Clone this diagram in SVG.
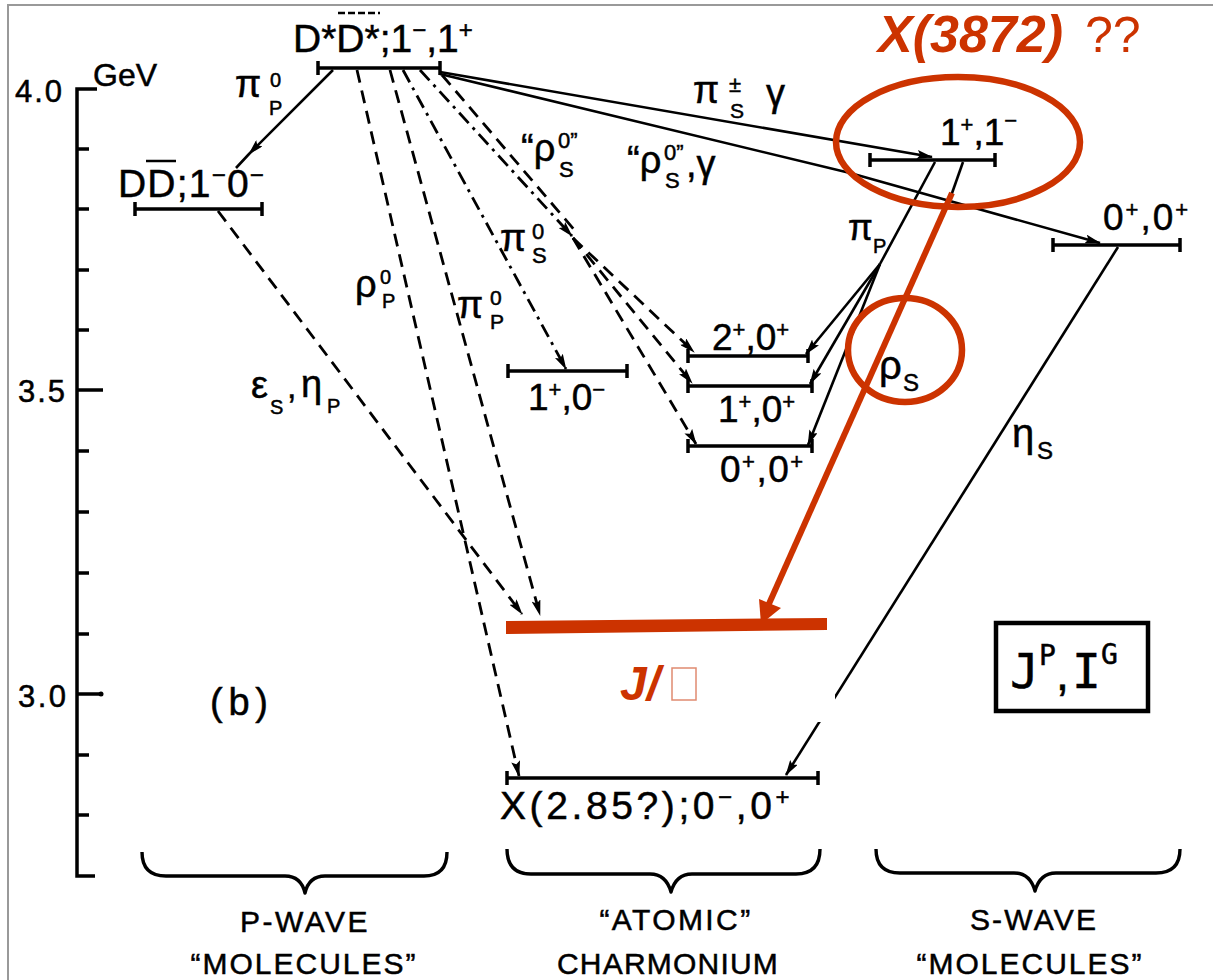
<svg xmlns="http://www.w3.org/2000/svg" width="1213" height="980" viewBox="0 0 1213 980">
<defs>
<style>
.t{font-family:"Liberation Sans",Arial,sans-serif;fill:#000;stroke:#000;stroke-width:0.5}
.m{font-family:"DejaVu Sans Mono","Liberation Mono",monospace;fill:#000;stroke:#000;stroke-width:0.5}
.lvl{stroke:#000;stroke-width:3.5;fill:none}
.sol{stroke:#000;stroke-width:2.6;fill:none}
.dsh{stroke:#000;stroke-width:2.8;fill:none;stroke-dasharray:13 8}
.dd{stroke:#000;stroke-width:2.8;fill:none;stroke-dasharray:14 6 3 6}
.ax{stroke:#000;stroke-width:3.5;fill:none}
.br{stroke:#000;stroke-width:3.4;fill:none;stroke-linejoin:round}
.red{fill:#cc3300}
.rs{stroke:#cc3300;fill:none;stroke-width:6.5}
</style>
<marker id="ah" viewBox="0 0 16 9" refX="15" refY="4.5" markerWidth="16" markerHeight="9" markerUnits="userSpaceOnUse" orient="auto"><path d="M0,0 L16,4.5 L0,9 L3,4.5 Z" fill="#000"/></marker>
</defs>
<rect x="0" y="0" width="1213" height="980" fill="#fff"/>
<path d="M8,980 L8,5 L1213,5" stroke="#999" stroke-width="2" fill="none"/>

<g id="axis">
<path class="ax" d="M97,89 L77,89 L77,876 L95,876"/>
<path class="ax" d="M77,149 L89,149 M77,209 L89,209 M77,270 L89,270 M77,330 L89,330 M77,390 L103,390 M77,451 L89,451 M77,512 L89,512 M77,573 L89,573 M77,634 L89,634 M77,694 L101,694 M77,755 L89,755 M77,815 L89,815"/>
<circle cx="101" cy="694" r="2.5" fill="#000"/>
<text class="t" x="15" y="102" font-size="31" textLength="47">4.0</text>
<text class="t" x="93" y="86" font-size="32">GeV</text>
<text class="t" x="18" y="402" font-size="31" textLength="47">3.5</text>
<text class="t" x="18" y="707" font-size="31" textLength="48">3.0</text>
</g>

<g id="connectors">
<path class="sol" d="M333,70 L249,154 L236,168" marker-mid="url(#ah)"/>
<path class="sol" d="M440,72 L932,157" marker-end="url(#ah)"/>
<path class="sol" d="M440,74 L850,173 L1100,243" marker-end="url(#ah)"/>
<path class="sol" d="M935,162 L880,264"/>
<path class="sol" d="M880,264 L806,354" marker-end="url(#ah)"/>
<path class="sol" d="M880,264 L810,384" marker-end="url(#ah)"/>
<path class="sol" d="M880,264 L808,445" marker-end="url(#ah)"/>
<path class="sol" d="M963,162 L951,196"/>
<path class="sol" d="M1118,247 L786,775" marker-end="url(#ah)"/>
<path class="dsh" d="M218,211 L522,614" marker-end="url(#ah)"/>
<path class="dsh" d="M357,70 L519,776" marker-end="url(#ah)"/>
<path class="dsh" d="M390,70 L540,615" marker-end="url(#ah)"/>
<path class="dd" d="M403,70 L566,369" marker-end="url(#ah)"/>
<path class="dd" d="M420,70 L572,236" marker-end="url(#ah)"/>
<path class="dsh" d="M442,75 L577,233"/>
<path class="dsh" d="M573,238 L694,352" marker-end="url(#ah)"/>
<path class="dsh" d="M573,238 L692,383" marker-end="url(#ah)"/>
<path class="dsh" d="M573,238 L696,444" marker-end="url(#ah)"/>
</g>

<g id="lvl-dsds">
<path class="lvl" d="M318,68 L440,68 M318,61 L318,75 M440,61 L440,75"/>
<text class="t" x="293" y="52" font-size="39">D*D*;1<tspan dy="-14" font-size="24">−</tspan><tspan dy="14">,1</tspan><tspan dy="-14" font-size="24">+</tspan></text>
<path d="M338,13 L380,13" stroke="#000" stroke-width="2.5" stroke-dasharray="7 3"/>
</g>
<g id="lvl-dd">
<path class="lvl" d="M135,209 L262,209 M135,202 L135,216 M262,202 L262,216"/>
<text class="t" x="118" y="197" font-size="39" letter-spacing="1.2">DD;1<tspan dy="-14" font-size="24">−</tspan><tspan dy="14">0</tspan><tspan dy="-14" font-size="24">−</tspan></text>
<path d="M146,161 L176,161" stroke="#000" stroke-width="2.5"/>
</g>
<g id="lvl-11">
<path class="lvl" d="M870,160 L995,160 M870,153 L870,167 M995,153 L995,167"/>
<text class="t" x="940" y="145" font-size="37">1<tspan dy="-13" font-size="22">+</tspan><tspan dy="13">,1</tspan><tspan dy="-17" font-size="22">−</tspan></text>
</g>
<g id="lvl-00s">
<path class="lvl" d="M1053,245 L1180,245 M1053,238 L1053,252 M1180,238 L1180,252"/>
<text class="t" x="1103" y="230" font-size="37" letter-spacing="2">0<tspan dy="-13" font-size="22">+</tspan><tspan dy="13">,0</tspan><tspan dy="-13" font-size="22">+</tspan></text>
</g>
<g id="lvl-10m">
<path class="lvl" d="M508,371 L627,371 M508,364 L508,378 M627,364 L627,378"/>
<text class="t" x="528" y="410" font-size="37">1<tspan dy="-13" font-size="22">+</tspan><tspan dy="13">,0</tspan><tspan dy="-13" font-size="22">−</tspan></text>
</g>
<g id="lvl-20">
<path class="lvl" d="M688,356 L808,356 M688,349 L688,363 M808,349 L808,363"/>
<text class="t" x="712" y="350" font-size="37">2<tspan dy="-13" font-size="22">+</tspan><tspan dy="13">,0</tspan><tspan dy="-13" font-size="22">+</tspan></text>
</g>
<g id="lvl-10p">
<path class="lvl" d="M688,386 L812,386 M688,379 L688,393 M812,379 L812,393"/>
<text class="t" x="718" y="422" font-size="37">1<tspan dy="-13" font-size="22">+</tspan><tspan dy="13">,0</tspan><tspan dy="-13" font-size="22">+</tspan></text>
</g>
<g id="lvl-00a">
<path class="lvl" d="M688,446 L812,446 M688,439 L688,453 M812,439 L812,453"/>
<text class="t" x="720" y="482" font-size="37" letter-spacing="1.5">0<tspan dy="-13" font-size="22">+</tspan><tspan dy="13">,0</tspan><tspan dy="-13" font-size="22">+</tspan></text>
</g>
<g id="lvl-x285">
<path class="lvl" d="M507,778 L818,778 M507,771 L507,785 M818,771 L818,785"/>
<text class="t" x="500" y="819" font-size="39" letter-spacing="3.6">X(2.85?);0<tspan dy="-14" font-size="24">−</tspan><tspan dy="14">,0</tspan><tspan dy="-14" font-size="24">+</tspan></text>
</g>

<g id="labels">
<text class="t" x="235" y="97" font-size="38">π<tspan x="270" y="87" font-size="20">0</tspan><tspan x="269" y="115" font-size="20">P</tspan></text>
<text class="t" x="693" y="103" font-size="38">π<tspan x="729" y="92" font-size="22">±</tspan><tspan x="730" y="118" font-size="21">S</tspan><tspan x="766" y="106" font-size="38">γ</tspan></text>
<text class="t" x="521" y="161" font-size="38">“ρ<tspan x="558" y="148" font-size="22">0”</tspan><tspan x="559" y="177" font-size="22">S</tspan></text>
<text class="t" x="627" y="173" font-size="38">“ρ<tspan x="664" y="160" font-size="22">0”</tspan><tspan x="665" y="188" font-size="22">S</tspan><tspan x="686" y="177" font-size="38">,γ</tspan></text>
<text class="t" x="500" y="251" font-size="38">π<tspan x="532" y="239" font-size="22">0</tspan><tspan x="532" y="263" font-size="22">S</tspan></text>
<text class="t" x="457" y="318" font-size="38">π<tspan x="490" y="305" font-size="21">0</tspan><tspan x="490" y="329" font-size="21">P</tspan></text>
<text class="t" x="355" y="297" font-size="38">ρ<tspan x="380" y="284" font-size="20">0</tspan><tspan x="382" y="308" font-size="20">P</tspan></text>
<text class="t" x="251" y="398" font-size="38">ε<tspan x="270" y="414" font-size="20">S</tspan><tspan x="287" y="398" font-size="34">,</tspan><tspan x="301" y="397" font-size="38">η</tspan><tspan x="327" y="413" font-size="20">P</tspan></text>
<text class="t" x="848" y="240" font-size="36">π<tspan x="873" y="253" font-size="20">P</tspan></text>
<text class="t" x="879" y="379" font-size="40">ρ<tspan x="903" y="391" font-size="24">S</tspan></text>
<text class="t" x="1012" y="447" font-size="40">η<tspan x="1037" y="459" font-size="24">S</tspan></text>
<text class="t" x="210" y="715" font-size="38" textLength="58">(b)</text>
</g>

<g id="legend">
<rect x="996" y="623" width="152" height="88" fill="none" stroke="#000" stroke-width="4.5"/>
<text class="m" x="1010" y="688" font-size="48">J<tspan dy="-23" font-size="28">P</tspan><tspan dy="25" style="font-family:'Liberation Sans',Arial,sans-serif">,</tspan><tspan dx="3" dy="-2">I</tspan><tspan dy="-24" font-size="28">G</tspan></text>
</g>

<g id="groups">
<path class="br" d="M142,852 Q142,876 166,876 L285,876 Q301,876 305,893 Q309,876 325,876 L424,876 Q447,876 447,852"/>
<path class="br" d="M507,849 Q507,874 531,874 L650,874 Q666,874 671,892 Q676,874 692,874 L796,874 Q820,874 820,849"/>
<path class="br" d="M876,849 Q876,873 900,873 L1014,873 Q1030,873 1035,891 Q1040,873 1056,873 L1156,873 Q1180,873 1180,849"/>
<text class="t" x="305" y="932" font-size="30" text-anchor="middle" letter-spacing="2.5">P-WAVE</text>
<text class="t" x="304" y="974" font-size="30" text-anchor="middle" letter-spacing="2">“MOLECULES”</text>
<text class="t" x="676" y="930" font-size="30" text-anchor="middle" letter-spacing="2.4">“ATOMIC”</text>
<text class="t" x="668" y="974" font-size="30" text-anchor="middle" letter-spacing="1.2">CHARMONIUM</text>
<text class="t" x="1034" y="930" font-size="30" text-anchor="middle" letter-spacing="2.2">S-WAVE</text>
<text class="t" x="1030" y="974" font-size="30" text-anchor="middle" letter-spacing="2">“MOLECULES”</text>
</g>

<g id="cover">
<rect x="527" y="634" width="308" height="88" fill="#fff"/>
</g>

<g id="annotations">
<ellipse class="rs" cx="958" cy="142" rx="122" ry="65"/>
<ellipse class="rs" cx="905" cy="350" rx="57" ry="52"/>
<path d="M952,193 L768,606" stroke="#cc3300" stroke-width="6" fill="none"/>
<polygon class="red" points="761,624 781,608 759,599"/>
<polygon class="red" points="506,621 827,618 827,630 506,634"/>
<text x="878" y="52" font-family="Liberation Sans,Arial,sans-serif" font-size="52" font-weight="bold" font-style="italic" class="red">X(3872)</text>
<text x="1085" y="52" font-family="Liberation Sans,Arial,sans-serif" font-size="50" class="red">??</text>
<text x="620" y="700" font-family="Liberation Sans,Arial,sans-serif" font-size="48" font-weight="bold" font-style="italic" class="red">J/</text>
<rect x="672" y="668" width="24" height="32" fill="none" stroke="#e08a70" stroke-width="1.5"/>
</g>
</svg>
